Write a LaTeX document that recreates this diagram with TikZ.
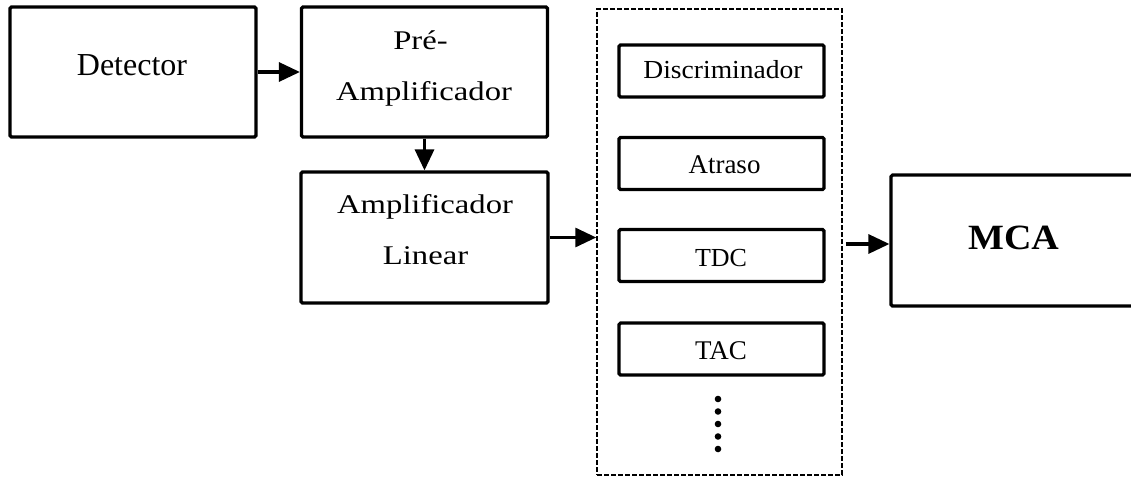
\documentclass[tikz,border=0pt]{standalone}
\usepackage{fontspec}
\setmainfont{Liberation Serif}
\usepackage{graphicx}
\usetikzlibrary{arrows.meta}

\tikzset{
  block/.style={draw, line width=3.2pt, rounded corners=1.5pt, inner sep=0pt},
  bigblock/.style={block, minimum width=246pt, minimum height=130pt},
  smallblock/.style={block, minimum width=205pt, minimum height=52pt},
  group/.style={draw, line width=1.5pt, dash pattern=on 5pt off 2pt, inner sep=0pt,
                minimum width=245pt, minimum height=466pt},
  lbl/.style={anchor=base, inner sep=0pt},
  flow/.style={line width=3.2pt, -{Triangle[length=21pt,width=19pt]}},
}
\newcommand{\widetext}[1]{\scalebox{1.21}[1]{#1}}

\begin{document}
\begin{tikzpicture}[x=1pt,y=-1pt]
  \useasboundingbox (0,0) rectangle (1131,476);

  % main chain
  \node[bigblock] (det) at (133,72) {};
  \node[bigblock] (pre) at (424.5,72) {};
  \node[bigblock, minimum width=247pt, minimum height=131pt] (lin) at (424.5,237.5) {};

  % processing modules
  \node[group] (grp) at (719.5,242) {};
  \node[smallblock] (disc) at (721.5,71) {};
  \node[smallblock] (atr) at (721.5,163.5) {};
  \node[smallblock] (tdc) at (721.5,255.5) {};
  \node[smallblock] (tac) at (721.5,349) {};

  % analyser
  \node[bigblock, minimum width=248pt, minimum height=131pt] (mca) at (1015,240.5) {};

  % labels
  \node[lbl, font=\fontsize{32}{36}\selectfont] (detT) at (132,76) {Detector};
  \node[lbl, font=\fontsize{27}{30}\selectfont] (preT1) at (420.5,50) {\widetext{Pré-}};
  \node[lbl, font=\fontsize{27}{30}\selectfont] (preT2) at (424,100) {\widetext{Amplificador}};
  \node[lbl, font=\fontsize{27}{30}\selectfont] (linT1) at (425,213) {\widetext{Amplificador}};
  \node[lbl, font=\fontsize{27}{30}\selectfont] (linT2) at (425.5,264) {\widetext{Linear}};
  \node[lbl, font=\fontsize{26}{30}\selectfont] (discT) at (723,79) {\scalebox{1.06}[1]{Discriminador}};
  \node[lbl, font=\fontsize{27}{30}\selectfont] (atrT) at (724.5,173) {Atraso};
  \node[lbl, font=\fontsize{26}{30}\selectfont] (tdcT) at (721,266) {TDC};
  \node[lbl, font=\fontsize{27}{30}\selectfont] (tacT) at (721,359) {TAC};
  \node[lbl, font=\bfseries\fontsize{35.5}{40}\selectfont] (mcaT) at (1013.5,249) {\scalebox{1.07}[1]{MCA}};

  % continuation dots
  \foreach \y in {399,411.5,424,436.5,449}
    \fill (718,\y) circle (3.3pt);

  % signal flow
  \draw[flow] (det.east) -- (pre.west);
  \draw[flow] (pre.south) -- (lin.north);
  \draw[flow] (lin.east) -- (lin.east -| grp.west);
  \draw[flow, shorten <=3pt] ([yshift=-3.5pt]mca.west -| grp.east) -- ([yshift=-3.5pt]mca.west);
\end{tikzpicture}
\end{document}
